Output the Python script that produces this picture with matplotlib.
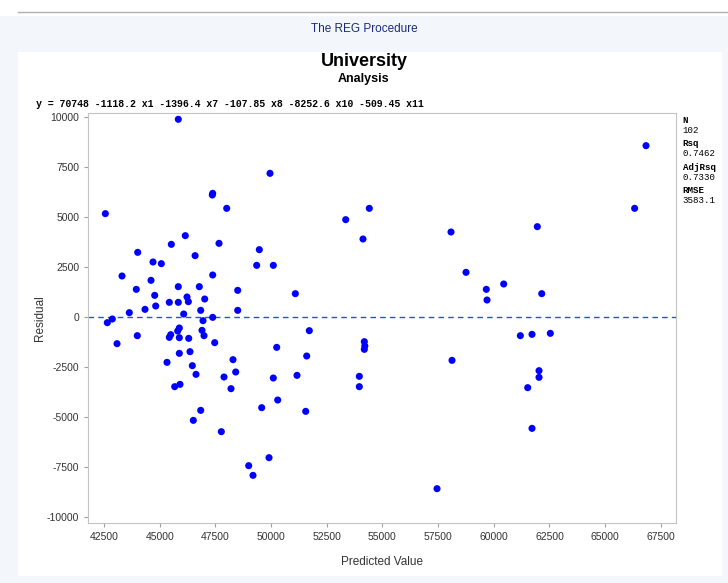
import matplotlib
matplotlib.use("Agg")
import matplotlib.pyplot as plt

plt.rcParams["axes.unicode_minus"] = False

# residuals vs predicted values from the regression fit
predicted = [
	45836, 49953, 47363, 47380, 48009, 42560, 46150, 45522, 47663, 44013,
	46590, 44700, 45073, 49356, 49473, 50102, 43308, 47380, 44610, 43950,
	45836, 46779, 48503, 44776, 51090, 46227, 46287, 47021, 45432, 45836,
	44821, 44341, 48503, 46842, 43636, 46078, 47380, 46945, 42873, 42648,
	51718, 43995, 66836, 66325, 54412, 53352, 54129, 58080, 61955, 58754,
	59665, 59697, 60446, 62154, 61193, 61718, 62539, 58125, 62032, 62032,
	61524, 61717, 57452, 43084, 45881, 45809, 45495, 45432, 45881, 46303,
	46900, 46990, 47470, 45881, 46361, 45329, 46466, 46631, 45674, 45912,
	48292, 48413, 47888, 48202, 46842, 46510, 47767, 48997, 49190, 49909,
	49580, 50299, 50102, 50254, 51166, 51601, 51556, 53963, 53963, 54188,
	54188, 54210,
]
residual = [
	9885, 7183, 6100, 6183, 5433, 5167, 4067, 3633, 3683, 3233,
	3067, 2750, 2667, 2583, 3367, 2583, 2050, 2100, 1833, 1383,
	1517, 1517, 1333, 1083, 1167, 1000, 767, 900, 733, 733,
	550, 383, 333, 333, 217, 150, -17, -183, -100, -283,
	-683, -933, 8567, 5433, 5433, 4867, 3900, 4250, 4517, 2233,
	1383, 850, 1650, 1167, -933, -867, -817, -2167, -2683, -3017,
	-3533, -5567, -8583, -1333, -550, -700, -883, -1017, -1033, -1067,
	-667, -933, -1283, -1817, -1733, -2267, -2433, -2867, -3483, -3367,
	-2133, -2750, -3000, -3583, -4667, -5167, -5733, -7433, -7917, -7033,
	-4533, -4150, -3050, -1517, -2917, -1950, -4717, -2967, -3483, -1233,
	-1617, -1450,
]

x_ticks = [42500, 45000, 47500, 50000, 52500, 55000, 57500, 60000, 62500, 65000, 67500]
y_ticks = [10000, 7500, 5000, 2500, 0, -2500, -5000, -7500, -10000]

equation = "y = 70748 -1118.2 x1 -1396.4 x7 -107.85 x8 -8252.6 x10 -509.45 x11"
stats = [("N", "102"), ("Rsq", "0.7462"), ("AdjRsq", "0.7330"), ("RMSE", "3583.1")]

sans = ["Liberation Sans Narrow", "Liberation Sans", "DejaVu Sans"]
mono = ["Liberation Mono", "DejaVu Sans Mono"]

fig = plt.figure(figsize=(7.28, 5.83), dpi=100)
fig.patch.set_facecolor("#f3f6fb")

# white report page and the rule above the procedure title
top_band = plt.Rectangle((0, 0.975), 1, 0.025, transform=fig.transFigure, color="white", zorder=-5)
page = plt.Rectangle((0.025, 0.014), 0.965, 0.897, transform=fig.transFigure, color="white", zorder=-5)
fig.add_artist(top_band)
fig.add_artist(page)
fig.add_artist(plt.Line2D([0.025, 1], [0.979, 0.979], transform=fig.transFigure, color="#b0b0b0", lw=1))

fig.text(0.5, 0.951, "The REG Procedure", ha="center", va="center", fontsize=8.5,
	color="#1a2a80", family=sans)
fig.text(0.5, 0.894, "University", ha="center", va="center", fontsize=13, fontweight="bold", family=sans[1:])
fig.text(0.5, 0.865, "Analysis", ha="center", va="center", fontsize=9, fontweight="bold", family=sans[1:])
fig.text(0.049, 0.821, equation, ha="left", va="center", fontsize=7.1, fontweight="bold", family=mono)

ax = fig.add_axes([0.1213, 0.1034, 0.8073, 0.7033])
ax.set_zorder(1)
ax.scatter(predicted, residual, s=26, color="#0000ff", edgecolors="none", zorder=3)
ax.axhline(0, color="#2a48ff", lw=1.0, ls=(0, (4, 3)), zorder=2)

ax.set_xlim(41795, 68183)
ax.set_ylim(-10285, 10215)
ax.set_xticks(x_ticks)
ax.set_yticks(y_ticks)
ax.tick_params(direction="out", length=3, color="#a0a0a0", labelsize=7.5, labelcolor="#333333")
for lab in ax.get_xticklabels() + ax.get_yticklabels():
	lab.set_family(sans)
for s in ax.spines.values():
	s.set_color("#c4c4c4")

ax.set_xlabel("Predicted Value", fontsize=8.5, color="#333333", family=sans, labelpad=10)
ax.set_ylabel("Residual", fontsize=8.5, color="#333333", family=sans, labelpad=1)

# fit statistics beside the plot
y = 0.794
for name, val in stats:
	fig.text(0.938, y, name, ha="left", va="center", fontsize=6.6, fontweight="bold", family=mono)
	fig.text(0.938, y - 0.0172, val, ha="left", va="center", fontsize=6.6, family=mono)
	y -= 0.0405

fig.savefig("out.png", dpi=100, facecolor=fig.get_facecolor())
